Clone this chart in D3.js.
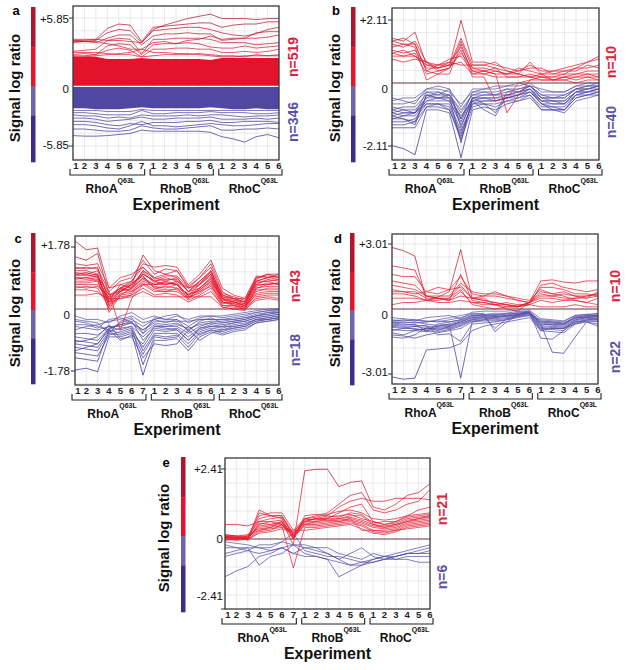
<!DOCTYPE html>
<html><head><meta charset="utf-8">
<script src="https://cdn.jsdelivr.net/npm/d3@7"></script>
<style>body{margin:0;background:#fff}svg{font-family:"Liberation Sans",Arial,sans-serif}</style>
</head><body><svg id="chart" width="642" height="670"></svg>
<script>
// ---------------- DATA ----------------
const experiments = ["1","2","3","4","5","6","7","1","2","3","4","5","6","1","2","3","4","5","6"];
const groups = [
  {name:"RhoA", sup:"Q63L", first:0, last:6},
  {name:"RhoB", sup:"Q63L", first:7, last:12},
  {name:"RhoC", sup:"Q63L", first:13, last:18}
];
const panelLetters = ["a","b","c","d","e"];
const tickValues = [5.85, 2.11, 1.78, 3.01, 2.41];
const upCounts = [519, 10, 43, 10, 21];
const downCounts = [346, 40, 18, 22, 6];

// panel a: dense bands (envelopes) + individual outlier profiles
const aRedBandTop    = [2.3,2.3,2.3,2.1,2.1,2.1,2.2, 2.1,2.1,2.1,2.1,2.1,2.0, 2.2,2.2,2.2,2.2,2.2,2.2];
const aRedBandBottom = [-0.35,-0.35,-0.35,-0.35,-0.35,-0.35,-0.35, -0.35,-0.35,-0.35,-0.35,-0.35,-0.35, -0.35,-0.35,-0.35,-0.35,-0.35,-0.35];
const aBlueBandTop   = [-0.45,-0.45,-0.45,-0.45,-0.45,-0.45,-0.45, -0.45,-0.45,-0.45,-0.45,-0.45,-0.45, -0.45,-0.45,-0.45,-0.45,-0.45,-0.45];
const aBlueBandBottom= [-2.4,-2.4,-2.5,-2.5,-2.5,-2.4,-2.3, -2.4,-2.4,-2.4,-2.4,-2.4,-2.3, -2.4,-2.5,-2.5,-2.4,-2.5,-2.5];
const aRed = [
  [3.9,3.9,3.9,3.8,3.8,3.7,3.6, 4.8,5.2,5.5,5.8,6.0,6.2, 5.8,5.8,5.8,5.7,5.8,5.8],
  [3.8,3.8,3.9,4.9,5.3,5.2,3.7, 5.0,5.1,5.2,5.3,5.4,5.4, 5.0,5.2,5.3,5.3,5.5,5.5],
  [3.7,3.7,3.8,4.5,4.8,4.7,3.6, 4.7,4.8,4.9,5.0,5.0,4.8, 4.5,4.3,4.2,4.4,4.8,5.0],
  [3.6,3.7,3.6,4.0,4.3,4.3,3.4, 4.2,4.4,4.4,4.5,4.4,4.4, 3.8,3.9,4.0,4.0,4.1,4.3],
  [2.8,2.9,3.0,3.8,4.0,3.9,2.6, 3.9,3.9,4.0,4.0,4.0,3.9, 3.6,3.6,3.6,3.4,3.5,3.6],
  [2.5,2.6,2.5,3.3,3.5,3.4,2.5, 3.4,3.5,3.5,3.6,3.5,3.2, 3.1,3.1,3.3,3.1,3.2,3.3],
  [2.4,2.4,2.5,2.9,3.1,2.9,2.3, 3.0,3.0,3.1,3.1,3.0,3.0, 2.7,2.7,2.8,2.7,2.8,3.0],
  [3.8,3.7,3.7,3.5,3.3,3.0,3.0, 3.6,3.7,3.5,3.8,3.9,4.2, 3.9,4.0,4.0,4.5,4.6,4.6],
  [2.3,2.3,2.4,2.5,2.6,2.7,3.0, 2.7,2.7,2.6,2.6,2.5,2.4, 2.3,2.3,2.4,2.4,2.4,2.4],
  [2.7,2.7,2.7,2.6,2.5,2.5,2.3, 2.4,2.5,2.5,2.5,2.6,2.5, 2.4,2.4,2.3,2.5,2.4,2.5]
];
const aBlue = [
  [-4.9,-4.95,-4.95,-4.9,-4.8,-4.7,-4.4, -4.5,-4.5,-4.5,-4.5,-4.5,-4.6, -5.0,-5.2,-5.5,-5.0,-4.8,-5.1],
  [-4.3,-4.3,-4.4,-4.5,-4.5,-4.4,-4.0, -4.2,-4.3,-4.3,-4.2,-4.1,-4.0, -4.4,-4.4,-4.3,-4.3,-4.2,-4.3],
  [-3.9,-3.9,-4.0,-4.2,-4.3,-4.0,-3.6, -4.0,-4.0,-4.1,-4.0,-3.9,-3.8, -3.9,-4.0,-4.0,-3.9,-3.8,-3.8],
  [-3.6,-3.6,-3.7,-3.9,-4.0,-3.8,-3.9, -3.7,-3.7,-3.7,-3.6,-3.6,-3.5, -3.7,-3.7,-3.6,-3.6,-3.6,-3.7],
  [-3.3,-3.3,-3.4,-3.6,-3.5,-3.4,-3.2, -3.4,-3.4,-3.3,-3.3,-3.3,-3.2, -3.4,-3.4,-3.4,-3.3,-3.4,-3.3],
  [-3.0,-3.1,-3.1,-3.3,-3.2,-3.3,-3.0, -3.1,-3.1,-3.1,-3.0,-3.1,-3.0, -3.0,-3.1,-3.2,-3.1,-3.1,-3.0],
  [-2.8,-2.8,-2.9,-3.0,-3.0,-3.0,-2.6, -2.9,-2.9,-2.8,-2.8,-2.8,-2.7, -2.8,-2.8,-2.8,-2.9,-2.9,-2.8],
  [-2.6,-2.6,-2.6,-2.7,-2.7,-2.7,-2.5, -2.6,-2.6,-2.6,-2.6,-2.6,-2.6, -2.6,-2.6,-2.6,-2.6,-2.6,-2.6]
];

const bRed = [
  [1.5,1.4,1.7,0.6,0.5,0.6,2.1, 0.7,0.7,0.6,0.5,0.4,0.6, 0.4,0.4,0.5,0.6,0.7,0.8],
  [1.4,1.5,1.3,0.4,0.6,0.6,1.5, 0.6,0.6,0.7,0.4,0.3,0.7, 0.3,0.4,0.4,0.5,0.5,0.6],
  [1.3,1.2,1.4,0.7,0.4,0.5,1.4, 0.5,0.5,0.4,0.3,0.4,0.5, 0.5,0.3,0.4,0.4,0.6,0.5],
  [1.2,1.3,1.2,0.1,0.3,0.5,1.0, 0.5,0.4,0.5,0.2,0.2,0.3, 0.2,0.2,0.3,0.3,0.4,0.4],
  [1.1,1.0,1.1,0.5,0.5,0.7,1.2, 0.4,0.4,0.3,0.3,0.5,0.4, 0.3,0.1,0.2,0.3,0.3,0.3],
  [1.0,1.1,0.9,0.6,0.6,0.8,0.9, 0.4,0.3,0.4,0.3,0.3,0.2, 0.2,0.2,0.2,0.2,0.3,0.2],
  [0.9,0.9,0.9,0.7,0.5,0.6,0.7, 0.3,0.3,0.2,0.2,0.2,0.2, 0.1,0.1,0.1,0.2,0.2,0.2],
  [0.8,0.7,0.8,0.7,0.6,0.7,0.6, 0.6,0.6,0.5,0.4,0.3,0.2, 0.3,0.3,0.3,0.5,0.7,0.9],
  [1.4,1.3,1.3,0.4,0.3,0.3,1.3, 0.3,0.4,0.3,-1.0,-0.4,0.1, 0.2,0.1,0.2,0.1,0.2,0.1],
  [1.0,0.9,1.0,0.3,0.4,0.5,1.1, 0.2,0.2,-0.6,-0.5,0.0,0.1, 0.1,0.1,0.1,0.0,0.1,0.1]
];
const bBlue = [
  [-0.6,-0.5,-0.5,-0.2,-0.2,-0.3,-0.7, -0.3,-0.2,-0.2,-0.1,-0.1,0.0, -0.3,-0.3,-0.3,-0.1,-0.1,0.0],
  [-0.7,-0.7,-0.6,-0.3,-0.3,-0.4,-0.9, -0.4,-0.3,-0.3,-0.2,-0.2,-0.1, -0.4,-0.4,-0.4,-0.2,-0.1,-0.1],
  [-0.9,-0.8,-0.8,-0.4,-0.4,-0.4,-1.0, -0.4,-0.4,-0.4,-0.3,-0.3,-0.1, -0.5,-0.5,-0.5,-0.2,-0.2,-0.1],
  [-1.0,-0.9,-0.9,-0.5,-0.5,-0.5,-1.2, -0.5,-0.4,-0.4,-0.4,-0.3,-0.2, -0.5,-0.6,-0.6,-0.3,-0.2,-0.2],
  [-1.1,-1.0,-1.0,-0.6,-0.5,-0.6,-1.3, -0.5,-0.5,-0.5,-0.4,-0.4,-0.2, -0.6,-0.6,-0.7,-0.3,-0.3,-0.2],
  [-1.2,-1.1,-1.1,-0.6,-0.6,-0.6,-1.4, -0.6,-0.6,-0.6,-0.5,-0.4,-0.3, -0.7,-0.7,-0.7,-0.4,-0.3,-0.3],
  [-1.3,-1.3,-1.2,-0.7,-0.7,-0.7,-1.6, -0.7,-0.6,-0.6,-0.5,-0.5,-0.3, -0.7,-0.8,-0.8,-0.4,-0.4,-0.3],
  [-1.4,-1.4,-1.3,-0.8,-0.7,-0.8,-1.7, -0.7,-0.7,-0.7,-0.6,-0.5,-0.4, -0.8,-0.8,-0.9,-0.5,-0.4,-0.3],
  [-1.5,-1.5,-1.5,-0.8,-0.8,-0.9,-1.9, -0.8,-0.7,-0.8,-0.6,-0.6,-0.4, -0.9,-0.9,-0.9,-0.5,-0.4,-0.4],
  [-2.1,-2.2,-2.4,-0.9,-0.9,-1.0,-2.5, -0.9,-0.8,-0.9,-0.7,-0.6,-0.5, -0.9,-0.9,-1.0,-0.6,-0.5,-0.4],
  [-0.8,-0.9,-1.0,-0.5,-0.3,-0.5,-1.1, -0.6,-0.9,-1.1,-0.4,-0.3,-0.2, -0.6,-0.6,-0.6,-0.3,-0.2,-0.1],
  [-1.0,-1.1,-1.0,-0.3,-0.4,-0.2,-1.5, -0.5,-0.7,-1.0,-0.3,-0.2,-0.1, -0.4,-0.5,-0.5,-0.2,-0.2,-0.1],
  [-0.5,-0.6,-0.7,-0.2,-0.1,-0.2,-0.8, -0.2,-0.2,-0.1,-0.1,0.0,-0.1, -0.2,-0.3,-0.3,-0.1,0.0,0.0],
  [-1.2,-1.2,-1.4,-0.4,-0.5,-0.5,-2.0, -0.5,-0.5,-0.6,-0.5,-0.4,-0.2, -0.7,-0.9,-0.9,-0.4,-0.3,-0.2],
  [-0.9,-1.0,-1.0,-0.7,-0.7,-0.9,-1.8, -0.6,-0.5,-0.5,-0.5,-0.4,-0.3, -0.6,-0.7,-0.7,-0.3,-0.3,-0.2],
  [-1.1,-1.2,-1.3,-0.4,-0.5,-0.4,-1.2, -0.3,-0.3,-0.4,-0.2,-0.3,-0.1, -0.5,-0.5,-0.4,-0.2,-0.1,-0.1]
];

const cRed = [
  [1.95,1.7,1.75,0.6,0.7,0.8,1.3, 1.2,1.25,1.2,0.7,1.0,1.4, 0.6,0.4,0.3,0.9,1.0,1.0],
  [1.5,1.4,1.6,0.4,0.6,0.7,1.55, 1.1,1.0,1.1,0.6,0.9,1.3, 0.5,0.3,0.2,0.8,0.9,0.95],
  [1.2,1.15,1.2,0.2,0.5,0.6,1.1, 0.9,1.0,0.9,0.5,0.8,1.1, 0.4,0.3,0.2,0.9,0.95,0.9],
  [1.1,1.1,1.0,0.1,0.5,0.7,1.0, 0.8,0.9,0.8,0.6,0.7,1.0, 0.3,0.2,0.1,0.8,0.8,0.85],
  [1.05,1.0,1.1,0.3,0.6,0.8,1.2, 0.9,0.8,0.9,0.5,0.6,0.9, 0.35,0.25,0.15,0.7,0.85,0.8],
  [1.0,0.95,1.0,-0.1,0.4,0.6,0.9, 0.7,0.8,0.7,0.4,0.7,0.95, 0.2,0.15,0.05,0.6,0.7,0.75],
  [0.95,1.0,0.9,0.2,0.7,0.6,1.0, 0.8,0.7,0.8,0.5,0.8,1.05, 0.3,0.25,0.2,0.75,0.8,0.7],
  [0.9,0.9,0.95,0.4,0.5,0.7,1.05, 0.75,0.75,0.7,0.4,0.6,0.85, 0.25,0.2,0.1,0.65,0.75,0.7],
  [0.85,0.9,0.8,0.0,0.45,0.5,0.85, 0.7,0.7,0.75,0.35,0.55,0.8, 0.2,0.1,0.05,0.6,0.65,0.65],
  [0.8,0.8,0.85,0.3,0.6,0.75,0.95, 0.6,0.65,0.6,0.45,0.5,0.75, 0.15,0.2,0.1,0.5,0.6,0.6],
  [0.75,0.75,0.8,0.1,0.4,0.45,0.8, 0.65,0.6,0.7,0.3,0.6,0.9, 0.3,0.1,0.0,0.55,0.55,0.55],
  [0.7,0.7,0.7,0.25,0.55,0.55,0.9, 0.6,0.55,0.55,0.35,0.45,0.7, 0.1,0.05,0.0,0.45,0.5,0.5],
  [0.65,0.6,0.65,0.35,0.6,0.5,0.7, 0.5,0.5,0.5,0.3,0.5,0.65, 0.2,0.15,0.1,0.4,0.45,0.45],
  [0.6,0.65,0.6,0.05,0.35,0.4,0.75, 0.55,0.5,0.6,0.25,0.4,0.6, 0.05,0.0,-0.05,0.35,0.4,0.4],
  [1.15,1.2,1.15,0.5,0.8,0.9,1.4, 1.0,1.15,1.1,0.65,0.9,1.2, 0.45,0.35,0.25,0.85,1.0,0.9],
  [0.55,0.55,0.5,0.2,0.3,0.4,0.6, 0.4,0.45,0.4,0.2,0.35,0.5, 0.1,0.1,0.05,0.3,0.35,0.3],
  [0.4,0.4,0.45,0.3,0.3,0.35,0.5, 0.35,0.35,0.35,0.35,0.35,0.35, 0.05,0.0,0.0,0.25,0.3,0.25],
  [1.3,1.25,1.3,0.6,0.9,1.0,1.2, 0.85,0.95,0.95,0.6,0.75,1.0, 0.4,0.3,0.3,0.95,0.9,1.0],
  [0.9,0.85,0.9,0.5,-0.6,0.3,0.7, 0.7,0.75,0.7,0.4,0.55,0.8, 0.3,0.2,0.15,0.7,0.7,0.75],
  [1.0,1.05,0.95,0.15,0.55,0.65,1.1, 0.8,0.85,0.85,0.5,0.7,1.1, 0.35,0.3,0.2,0.8,0.9,0.85]
];
const cBlue = [
  [-0.2,-0.3,-0.3,-0.4,-0.2,-0.1,-0.3, -0.2,-0.3,-0.2,-0.3,-0.2,-0.2, -0.2,-0.15,-0.1,-0.05,0.0,0.0],
  [-0.35,-0.4,-0.5,-0.6,-0.4,-0.3,-0.5, -0.3,-0.4,-0.3,-0.5,-0.3,-0.3, -0.3,-0.25,-0.2,-0.1,-0.05,-0.05],
  [-0.5,-0.55,-0.6,-0.5,-0.5,-0.4,-0.6, -0.4,-0.45,-0.4,-0.6,-0.4,-0.35, -0.35,-0.3,-0.25,-0.15,-0.1,-0.1],
  [-0.7,-0.7,-0.75,-0.5,-0.6,-0.5,-0.8, -0.5,-0.5,-0.5,-0.7,-0.5,-0.4, -0.4,-0.35,-0.3,-0.2,-0.15,-0.1],
  [-0.8,-0.85,-0.9,-0.55,-0.45,-0.35,-0.9, -0.55,-0.6,-0.55,-0.8,-0.55,-0.45, -0.5,-0.4,-0.35,-0.25,-0.2,-0.15],
  [-0.9,-0.95,-1.0,-0.6,-0.7,-0.6,-1.1, -0.6,-0.65,-0.6,-0.9,-0.6,-0.5, -0.55,-0.45,-0.4,-0.3,-0.25,-0.2],
  [-1.0,-1.05,-1.1,-0.65,-0.55,-0.5,-1.2, -0.7,-0.7,-0.7,-1.0,-0.65,-0.55, -0.6,-0.5,-0.45,-0.3,-0.3,-0.25],
  [-1.1,-1.15,-1.2,-0.7,-0.75,-0.65,-1.3, -0.75,-0.8,-0.75,-1.1,-0.7,-0.6, -0.65,-0.55,-0.5,-0.35,-0.3,-0.25],
  [-1.25,-1.3,-1.35,-0.75,-0.65,-0.55,-1.6, -0.8,-0.85,-0.8,-0.5,-0.75,-0.6, -0.7,-0.6,-0.55,-0.4,-0.35,-0.3],
  [-1.75,-1.7,-1.8,-0.8,-0.8,-0.7,-1.9, -0.9,-0.9,-0.85,-1.2,-0.8,-0.65, -0.75,-0.65,-0.6,-0.4,-0.35,-0.3],
  [-1.4,-1.45,-1.5,-0.6,-0.9,-0.75,-1.0, -0.5,-0.55,-0.6,-0.9,-0.55,-0.5, -0.5,-0.5,-0.45,-0.3,-0.25,-0.2],
  [-0.6,-0.5,-0.45,-0.35,-0.3,-0.2,-0.4, -0.3,-0.2,-0.15,-0.4,-0.25,-0.2, -0.25,-0.2,-0.15,-0.1,-0.05,0.0],
  [-0.95,-0.9,-0.8,-0.45,-0.85,-0.8,-1.4, -1.0,-1.05,-1.0,-0.6,-0.9,-0.7, -0.6,-0.55,-0.5,-0.35,-0.3,-0.25],
  [-1.2,-1.1,-1.0,-0.55,-0.45,-0.4,-0.7, -0.45,-0.5,-0.45,-0.55,-0.45,-0.4, -0.45,-0.4,-0.35,-0.25,-0.2,-0.15],
  [-0.45,-0.45,-0.55,-0.3,-0.25,-0.4,-0.6, -0.35,-0.35,-0.35,-0.35,-0.3,-0.3, -0.3,-0.3,-0.25,-0.2,-0.15,-0.1],
  [-0.3,-0.35,-0.4,-0.7,-0.35,-0.25,-0.7, -0.25,-0.3,-0.3,-0.65,-0.35,-0.25, -0.4,-0.35,-0.3,-0.2,-0.1,-0.05]
];

const dRed = [
  [2.85,2.7,2.45,0.4,0.55,0.8,2.75, 0.5,0.4,0.3,0.2,0.15,0.3, 1.3,1.35,1.25,1.2,1.3,1.3],
  [2.0,1.9,1.8,0.6,0.5,0.4,1.6, 0.4,0.3,0.2,0.1,0.1,0.2, 1.1,1.2,1.0,0.9,0.8,0.9],
  [1.6,1.5,1.5,0.8,0.7,0.9,1.5, 0.7,0.6,0.6,0.5,0.4,0.3, 1.0,1.0,0.9,0.7,0.7,0.6],
  [1.3,1.2,1.1,0.6,0.6,0.6,1.2, 0.8,0.7,0.7,0.6,0.5,0.4, 0.9,0.7,0.8,0.6,0.6,0.7],
  [0.8,0.8,0.7,0.8,1.0,0.9,1.0, 0.5,0.5,0.2,0.0,-0.1,0.3, 0.6,0.6,0.5,0.5,0.5,0.6],
  [0.9,0.8,0.8,0.5,0.5,0.4,0.8, 0.3,0.3,0.2,0.2,0.1,0.3, 0.5,0.5,0.4,0.4,0.3,0.5],
  [0.2,0.3,0.3,0.4,0.5,0.4,0.6, 0.5,0.4,0.3,0.2,0.1,0.3, 0.8,0.7,0.6,0.4,0.3,0.2],
  [0.7,0.7,0.6,0.4,0.4,0.5,0.9, 0.2,0.1,0.0,0.1,0.1,0.2, 0.4,0.3,0.4,0.5,0.6,0.7],
  [1.1,1.0,0.9,0.6,0.5,0.5,1.1, 0.5,0.6,0.8,0.6,0.4,0.3, 0.7,0.6,0.7,0.6,0.5,0.8],
  [0.5,0.5,0.5,0.4,0.3,0.3,0.4, 0.3,0.2,0.2,0.3,0.2,0.2, 0.1,0.1,0.1,0.2,0.1,0.1]
];
const dBlue = [
  [-3.15,-3.25,-3.2,-1.9,-1.85,-1.8,-1.6, -1.0,-0.8,-0.7,-0.6,-0.5,-0.4, -1.0,-0.9,-0.9,-0.7,-0.6,-0.8],
  [-1.1,-1.2,-1.0,-0.9,-0.8,-0.7,-3.2, -0.6,-0.5,-0.4,-0.3,-0.3,-0.2, -0.6,-0.6,-0.7,-0.4,-0.4,-0.5],
  [-0.6,-0.6,-0.65,-0.6,-0.5,-0.4,-0.3, -0.2,-0.25,-0.2,-0.2,-0.1,-0.2, -0.7,-2.0,-2.05,-1.3,-0.6,-0.7],
  [-0.5,-0.55,-0.5,-0.6,-0.55,-0.6,-0.5, -0.3,-0.25,-0.3,-0.2,-0.2,-0.1, -0.55,-0.6,-0.65,-0.4,-0.3,-0.3],
  [-0.6,-0.65,-0.6,-0.7,-0.75,-0.7,-0.55, -0.35,-0.3,-0.3,-0.25,-0.2,-0.15, -0.65,-0.7,-0.75,-0.45,-0.35,-0.35],
  [-0.65,-0.7,-0.75,-0.8,-0.8,-0.75,-0.6, -0.4,-0.35,-0.35,-0.3,-0.25,-0.15, -0.7,-0.75,-0.8,-0.5,-0.4,-0.4],
  [-0.75,-0.8,-0.8,-0.9,-0.9,-0.85,-0.7, -0.45,-0.4,-0.4,-0.35,-0.25,-0.2, -0.8,-0.8,-0.85,-0.55,-0.45,-0.45],
  [-0.85,-0.9,-0.9,-1.0,-0.95,-0.9,-0.75, -0.5,-0.45,-0.45,-0.4,-0.3,-0.2, -0.85,-0.9,-0.9,-0.6,-0.5,-0.45],
  [-0.95,-1.0,-1.0,-1.05,-1.05,-0.95,-0.8, -0.55,-0.5,-0.5,-0.45,-0.35,-0.25, -0.9,-0.95,-1.0,-0.65,-0.5,-0.5],
  [-1.2,-1.25,-1.35,-1.2,-1.1,-1.0,-0.9, -0.6,-0.55,-0.55,-0.5,-0.4,-0.3, -1.0,-1.05,-1.1,-0.7,-0.55,-0.55],
  [-0.4,-0.45,-0.5,-0.55,-0.6,-0.5,-0.4, -0.25,-0.2,-1.05,-0.6,-0.3,-0.15, -1.35,-1.4,-1.0,-0.5,-0.4,-0.35],
  [-1.0,-0.9,-0.8,-0.75,-1.2,-1.15,-1.5, -0.7,-0.65,-0.6,-0.5,-0.35,-0.3, -0.5,-0.55,-0.6,-0.3,-0.25,-0.2],
  [-0.55,-0.5,-0.55,-0.4,-0.35,-0.3,-0.45, -0.15,-0.1,-0.1,-0.1,-0.05,-0.05, -0.45,-0.5,-0.55,-0.3,-0.25,-0.25],
  [-0.7,-0.75,-0.7,-1.05,-0.7,-0.6,-0.5, -0.3,-0.3,-0.25,-0.3,-0.15,-0.1, -0.75,-0.7,-0.7,-0.35,-0.3,-0.3],
  [-1.3,-1.35,-1.2,-0.85,-1.0,-0.8,-0.6, -0.4,-0.35,-0.9,-0.45,-0.3,-0.2, -0.95,-0.85,-0.9,-0.6,-0.55,-0.6],
  [-0.8,-0.85,-0.95,-0.95,-0.85,-0.8,-0.65, -0.5,-0.4,-0.35,-0.35,-0.25,-0.15, -0.6,-0.65,-0.7,-0.4,-0.35,-0.3]
];

const eRed = [
  [0.1,0.05,0.0,0.3,0.4,0.6,-0.2, 2.35,2.4,2.4,1.8,1.95,2.0, 1.1,1.0,1.2,1.5,1.6,1.9],
  [0.0,0.0,0.05,0.7,0.8,0.8,0.1, 0.7,0.8,0.9,1.2,1.5,1.6, 1.0,0.9,1.0,1.2,1.3,1.7],
  [0.5,0.5,0.45,0.6,0.6,0.5,0.1, 0.6,0.7,0.8,1.1,1.3,1.4, 1.3,1.3,1.4,1.4,1.4,1.35],
  [0.1,0.1,0.0,0.9,0.8,0.8,0.2, 0.6,0.7,0.7,0.9,1.1,1.2, 0.6,0.5,0.6,0.8,1.0,1.1],
  [0.1,0.0,0.0,1.0,0.8,0.7,0.0, 0.5,0.6,0.7,0.7,0.8,0.8, 0.5,0.4,0.5,0.6,0.7,0.8],
  [0.15,0.1,0.1,0.8,0.9,0.9,0.3, 0.7,0.65,0.75,0.8,0.85,0.7, 0.6,0.5,0.55,0.7,0.75,0.8],
  [0.05,0.05,0.1,0.6,0.7,0.75,0.15, 0.6,0.6,0.65,0.7,0.75,0.65, 0.5,0.45,0.5,0.65,0.7,0.75],
  [0.0,-0.05,0.0,0.5,0.6,0.65,0.05, 0.55,0.55,0.6,0.65,0.7,0.6, 0.45,0.4,0.45,0.6,0.65,0.7],
  [0.1,0.05,0.05,0.45,0.5,0.55,0.2, 0.5,0.5,0.55,0.6,0.65,0.55, 0.4,0.35,0.4,0.55,0.6,0.65],
  [0.05,0.0,0.05,0.4,0.45,0.5,0.1, 0.45,0.45,0.5,0.55,0.6,0.5, 0.3,0.3,0.35,0.5,0.55,0.6],
  [0.1,0.1,0.15,0.35,0.4,0.45,-1.0, 0.4,0.4,0.45,0.5,0.55,0.45, 0.25,0.2,0.3,0.45,0.5,0.55],
  [0.0,0.05,0.1,0.3,0.35,0.4,0.3, 0.3,0.35,0.4,0.45,0.5,0.35, 0.2,0.15,0.25,0.4,0.45,0.5],
  [0.15,0.1,-0.05,0.25,0.3,0.5,0.0, 0.8,0.85,0.8,0.75,0.9,0.85, 0.55,0.6,0.6,0.75,0.8,0.85],
  [-0.05,0.0,0.0,0.2,0.25,0.35,0.25, 0.65,0.7,0.65,0.6,0.7,0.3, 0.3,0.25,0.3,0.35,0.4,0.45],
  [0.05,0.05,0.0,0.55,0.5,0.6,0.05, 0.7,0.75,0.85,0.95,1.0,0.9, 0.7,0.65,0.7,0.8,0.85,0.9]
];
const eBlue = [
  [-1.3,-1.1,-0.95,-0.6,-0.5,-0.3,-0.2, -0.3,-0.4,-0.5,-0.7,-0.9,-0.9, -0.8,-0.7,-0.6,-0.5,-0.4,-0.3],
  [-0.2,-0.3,-0.3,-0.9,-0.6,-0.5,-0.2, -0.5,-0.6,-0.7,-1.3,-1.1,-0.9, -0.7,-0.6,-0.6,-0.5,-0.5,-0.4],
  [-0.5,-0.4,-0.3,-0.3,-0.4,-0.3,-0.5, -0.3,-0.3,-0.5,-0.7,-0.5,-0.3, -0.6,-0.7,-0.7,-0.6,-0.6,-0.6],
  [-0.1,-0.15,-0.2,-0.3,-0.3,-0.1,0.2, -0.4,-0.5,-0.6,-0.6,-0.7,-0.8, -0.7,-0.6,-0.5,-0.4,-0.3,-0.2],
  [-0.3,-0.3,-0.4,-0.5,-0.4,-0.3,-0.5, -0.6,-0.6,-0.7,-0.8,-0.9,-0.8, -0.8,-0.7,-0.6,-0.5,-0.5,-0.5],
  [-0.6,-0.5,-0.4,-0.2,-0.2,-0.1,-0.2, -0.2,-0.3,-0.3,-0.5,-0.6,-0.7, -0.5,-0.6,-0.7,-0.7,-0.8,-0.8]
];

// ---------------- LAYOUT ----------------
const panels = [
  {red:aRed, blue:aBlue, bands:true, x0:73, x1:279, top:6, bottom:160, yPlus:18, yMinus:146,
   bar:{x:31, y0:7, y1:162}, lab:{plus:19, zero:89, minus:145, right:69}, title:{x:16,y:15}, ylab:{x:15,y:88},
   nUp:{x:293,y:57}, nDown:{x:293,y:122}, zeroLine:false},
  {red:bRed, blue:bBlue, x0:392, x1:599, top:8, bottom:160, yPlus:20, yMinus:146,
   bar:{x:351, y0:7, y1:162}, lab:{plus:20, zero:89, minus:146, right:388}, title:{x:336,y:15}, ylab:{x:335,y:88},
   nUp:{x:611,y:62}, nDown:{x:611,y:122}, zeroLine:true},
  {red:cRed, blue:cBlue, x0:75, x1:279, top:236, bottom:385, yPlus:247, yMinus:371,
   bar:{x:31, y0:233, y1:384}, lab:{plus:245, zero:315, minus:371, right:70}, title:{x:18,y:243}, ylab:{x:15,y:313},
   nUp:{x:295,y:286}, nDown:{x:295,y:350}, zeroLine:true},
  {red:dRed, blue:dBlue, x0:392, x1:598, top:234, bottom:384, yPlus:244, yMinus:374,
   bar:{x:350, y0:233, y1:385}, lab:{plus:244, zero:315, minus:372, right:388}, title:{x:338,y:243}, ylab:{x:335,y:313},
   nUp:{x:615,y:286}, nDown:{x:615,y:357}, zeroLine:true},
  {red:eRed, blue:eBlue, x0:225, x1:430, top:458, bottom:609, yPlus:469, yMinus:609,
   bar:{x:181, y0:457, y1:612}, lab:{plus:469, zero:539, minus:596, right:223}, title:{x:166,y:467}, ylab:{x:164,y:538},
   nUp:{x:442,y:509}, nDown:{x:442,y:577}, zeroLine:true}
];

const svg = d3.select("#chart");
const defs = svg.append("defs");

panels.forEach((p, pi) => {
  const T = tickValues[pi];
  const x = d3.scalePoint().domain(d3.range(experiments.length)).range([p.x0, p.x1]);
  const y = d3.scaleLinear().domain([-T, T]).range([p.yMinus, p.yPlus]);
  const g = svg.append("g");

  const rg = defs.append("linearGradient").attr("id","rg"+pi).attr("gradientUnits","userSpaceOnUse")
    .attr("x1",0).attr("x2",0).attr("y1",y(T)).attr("y2",y(0));
  rg.append("stop").attr("offset",0).attr("stop-color","#a3122e");
  rg.append("stop").attr("offset",0.5).attr("stop-color","#df1530");
  rg.append("stop").attr("offset",1).attr("stop-color","#ec1b2e");
  const bg = defs.append("linearGradient").attr("id","bg"+pi).attr("gradientUnits","userSpaceOnUse")
    .attr("x1",0).attr("x2",0).attr("y1",y(0)).attr("y2",y(-T));
  bg.append("stop").attr("offset",0).attr("stop-color","#5d55ad");
  bg.append("stop").attr("offset",0.5).attr("stop-color","#483e9d");
  bg.append("stop").attr("offset",1).attr("stop-color","#33288a");

  defs.append("clipPath").attr("id","clip"+pi).append("rect")
    .attr("x",p.x0).attr("y",p.top).attr("width",p.x1-p.x0).attr("height",p.bottom-p.top);

  // grid
  const hStep = T/5;
  const hVals = d3.range(-12, 13).map(k => k*hStep).filter(v => y(v) > p.top+1 && y(v) < p.bottom-1);
  g.selectAll(".hg").data(hVals).join("line")
    .attr("x1",p.x0).attr("x2",p.x1).attr("y1",d=>y(d)).attr("y2",d=>y(d))
    .attr("stroke","#dcdcdc").attr("stroke-width",0.6);
  g.selectAll(".vg").data(d3.range(experiments.length)).join("line")
    .attr("x1",d=>x(d)).attr("x2",d=>x(d)).attr("y1",p.top).attr("y2",p.bottom)
    .attr("stroke","#dcdcdc").attr("stroke-width",0.6);

  const plot = g.append("g").attr("clip-path","url(#clip"+pi+")");
  const line = d3.line().x((d,i)=>x(i)).y(d=>y(d));

  if (p.bands) {
    plot.append("path").datum(d3.range(19))
      .attr("d", d3.area().x(i=>x(i)).y0(i=>y(aBlueBandBottom[i])).y1(i=>y(aBlueBandTop[i])))
      .attr("fill","#5047a2");
    plot.append("path").datum(d3.range(19))
      .attr("d", d3.area().x(i=>x(i)).y0(i=>y(aRedBandBottom[i])).y1(i=>y(aRedBandTop[i])))
      .attr("fill","#e5122b");
  }
  if (p.zeroLine) {
    plot.append("line").attr("x1",p.x0).attr("x2",p.x1).attr("y1",y(0)).attr("y2",y(0))
      .attr("stroke","#7a3a48").attr("stroke-width",1);
  }
  plot.selectAll(".bl").data(p.blue).join("path")
    .attr("d",line).attr("fill","none").attr("stroke","url(#bg"+pi+")")
    .attr("stroke-width",0.8).attr("stroke-opacity",0.9);
  plot.selectAll(".rl").data(p.red).join("path")
    .attr("d",line).attr("fill","none").attr("stroke","url(#rg"+pi+")")
    .attr("stroke-width",0.8).attr("stroke-opacity",0.9);

  g.append("rect").attr("x",p.x0).attr("y",p.top).attr("width",p.x1-p.x0).attr("height",p.bottom-p.top)
    .attr("fill","none").attr("stroke","#3a3a3a").attr("stroke-width",1.3);

  [T, -T].forEach(v => g.append("line").attr("x1",p.x0-4).attr("x2",p.x0).attr("y1",y(v)).attr("y2",y(v))
    .attr("stroke","#333").attr("stroke-width",1));
  const tl = [["+"+T.toFixed(2), p.lab.plus], ["0", p.lab.zero], ["-"+T.toFixed(2), p.lab.minus]];
  g.selectAll(".tl").data(tl).join("text")
    .attr("x",p.lab.right).attr("y",d=>d[1]).attr("dy","0.35em").attr("text-anchor","end")
    .attr("font-size",11.5).attr("fill","#111").text(d=>d[0]);

  const b = p.bar, bh = b.y1 - b.y0;
  const segs = [[0,0.26,"#b0142f"],[0.26,0.51,"#e3142c"],[0.51,0.7,"#6c64ad"],[0.7,1,"#3b2d8b"]];
  g.selectAll(".cb").data(segs).join("rect")
    .attr("x",b.x).attr("width",4.5).attr("y",d=>b.y0+d[0]*bh).attr("height",d=>(d[1]-d[0])*bh+0.3)
    .attr("fill",d=>d[2]);

  g.append("text").attr("transform",`translate(${p.ylab.x},${p.ylab.y}) rotate(-90)`)
    .attr("text-anchor","middle").attr("dy","0.35em").attr("font-size",15).attr("font-weight","bold")
    .attr("fill","#111").text("Signal log ratio");
  g.append("text").attr("x",p.title.x).attr("y",p.title.y).attr("text-anchor","middle")
    .attr("font-size",13).attr("font-weight","bold").text(panelLetters[pi]);
  g.append("text").attr("transform",`translate(${p.nUp.x},${p.nUp.y}) rotate(-90)`)
    .attr("text-anchor","middle").attr("dy","0.35em").attr("font-size",14).attr("font-weight","bold")
    .attr("fill","#e0213a").text("n="+upCounts[pi]);
  g.append("text").attr("transform",`translate(${p.nDown.x},${p.nDown.y}) rotate(-90)`)
    .attr("text-anchor","middle").attr("dy","0.35em").attr("font-size",14).attr("font-weight","bold")
    .attr("fill","#5a52a3").text("n="+downCounts[pi]);

  g.selectAll(".xl").data(experiments).join("text")
    .attr("x",(d,i)=>x(i)+(i===0?3:0)).attr("y",p.bottom+9).attr("text-anchor","middle")
    .attr("font-size",9.5).attr("font-weight","bold").attr("fill","#222").text(d=>d);
  const by = p.bottom + 15;
  groups.forEach(gr => {
    const xa = x(gr.first) - 3, xb = x(gr.last) + 3;
    g.append("path").attr("d",`M${xa},${by-6}V${by}H${xb}V${by-6}`)
      .attr("fill","none").attr("stroke","#222").attr("stroke-width",1.1);
    const t = g.append("text").attr("x",(x(gr.first)+x(gr.last))/2 + 3).attr("y",p.bottom+33)
      .attr("text-anchor","middle").attr("font-size",12).attr("font-weight","bold").attr("fill","#111");
    t.append("tspan").text(gr.name);
    t.append("tspan").attr("dy",-10).attr("font-size",7).text(gr.sup);
  });
  g.append("text").attr("x",(p.x0+p.x1)/2).attr("y",p.bottom+50).attr("text-anchor","middle")
    .attr("font-size",16).attr("font-weight","bold").attr("fill","#111").text("Experiment");
});
</script>
</body></html>
